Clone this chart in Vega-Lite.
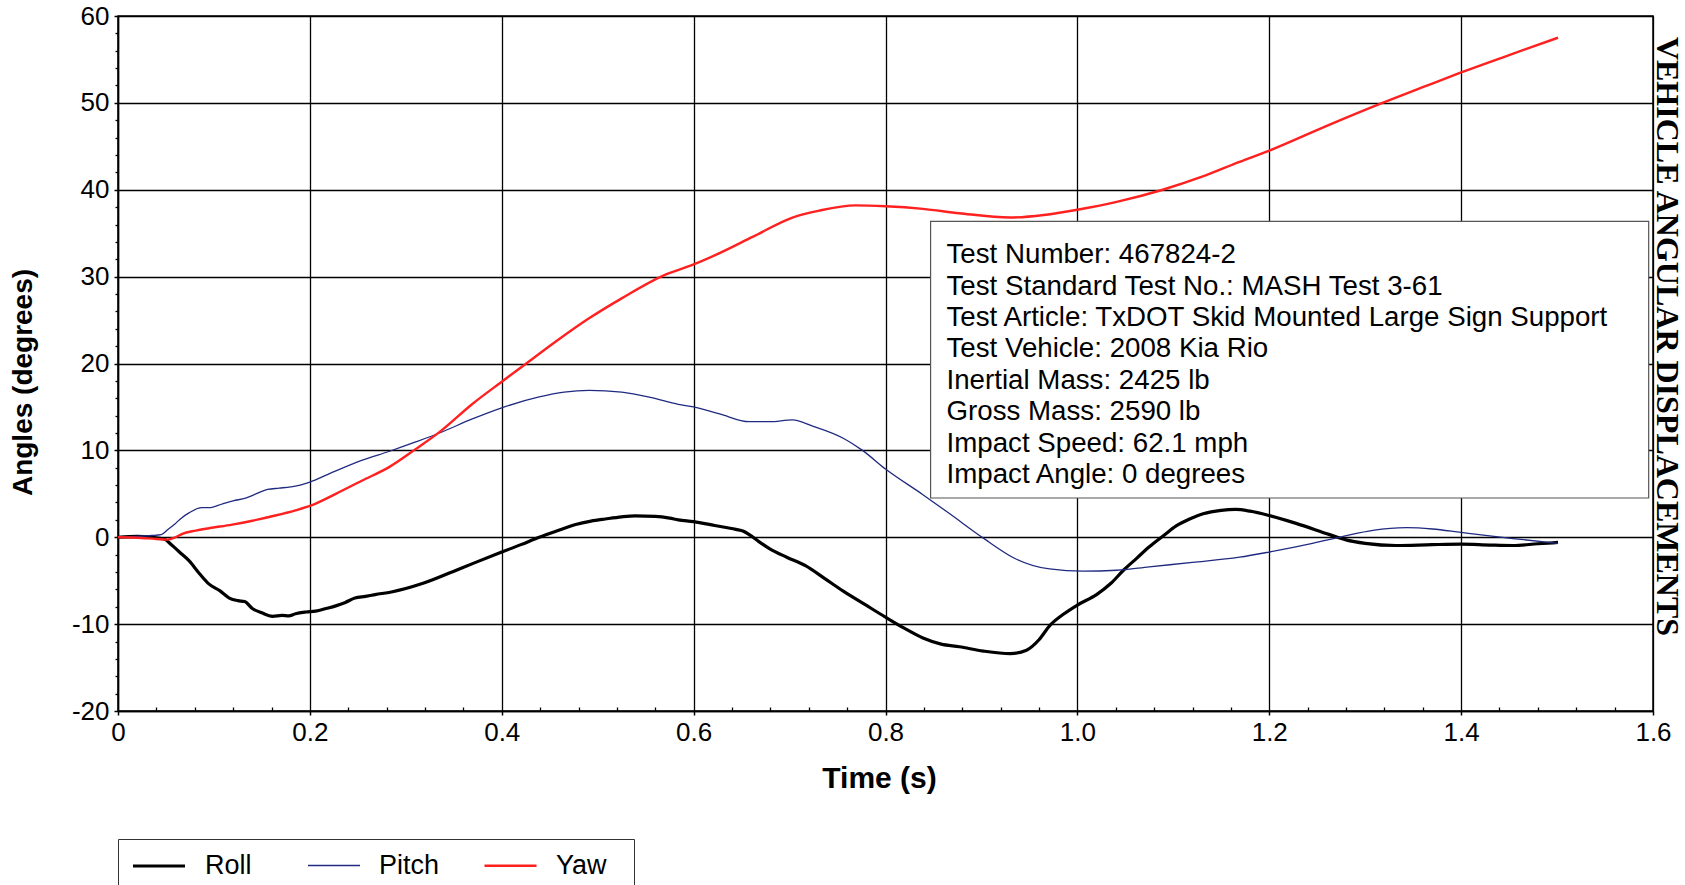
{
  "$schema": "https://vega.github.io/schema/vega-lite/v6.json",
  "width": 1535,
  "height": 695,
  "autosize": {"type": "none"},
  "padding": {"left": 118, "top": 16, "right": 32, "bottom": 174},
  "background": "white",
  "config": {"view": {"stroke": "black", "strokeWidth": 1.5}, "font": "Liberation Sans"},
  "datasets": {
    "angles": [
      {"series": "Roll", "t": 0, "angle": 0}, {"series": "Roll", "t": 0.02, "angle": 0.1}, {"series": "Roll", "t": 0.035, "angle": 0.0}, {"series": "Roll", "t": 0.048, "angle": -0.2}, {"series": "Roll", "t": 0.056, "angle": -0.9}, {"series": "Roll", "t": 0.064, "angle": -1.7}, {"series": "Roll", "t": 0.074, "angle": -2.7}, {"series": "Roll", "t": 0.085, "angle": -4.2}, {"series": "Roll", "t": 0.095, "angle": -5.4}, {"series": "Roll", "t": 0.106, "angle": -6.15}, {"series": "Roll", "t": 0.116, "angle": -7.0}, {"series": "Roll", "t": 0.125, "angle": -7.3}, {"series": "Roll", "t": 0.132, "angle": -7.4}, {"series": "Roll", "t": 0.14, "angle": -8.2}, {"series": "Roll", "t": 0.15, "angle": -8.7}, {"series": "Roll", "t": 0.161, "angle": -9.1}, {"series": "Roll", "t": 0.171, "angle": -9.0}, {"series": "Roll", "t": 0.178, "angle": -9.05}, {"series": "Roll", "t": 0.185, "angle": -8.8}, {"series": "Roll", "t": 0.196, "angle": -8.6}, {"series": "Roll", "t": 0.206, "angle": -8.5}, {"series": "Roll", "t": 0.217, "angle": -8.2}, {"series": "Roll", "t": 0.227, "angle": -7.9}, {"series": "Roll", "t": 0.237, "angle": -7.5}, {"series": "Roll", "t": 0.247, "angle": -7.0}, {"series": "Roll", "t": 0.258, "angle": -6.8}, {"series": "Roll", "t": 0.268, "angle": -6.6}, {"series": "Roll", "t": 0.285, "angle": -6.3}, {"series": "Roll", "t": 0.318, "angle": -5.3}, {"series": "Roll", "t": 0.359, "angle": -3.5}, {"series": "Roll", "t": 0.4, "angle": -1.7}, {"series": "Roll", "t": 0.42, "angle": -0.85}, {"series": "Roll", "t": 0.439, "angle": 0}, {"series": "Roll", "t": 0.458, "angle": 0.75}, {"series": "Roll", "t": 0.477, "angle": 1.46}, {"series": "Roll", "t": 0.493, "angle": 1.85}, {"series": "Roll", "t": 0.508, "angle": 2.1}, {"series": "Roll", "t": 0.525, "angle": 2.35}, {"series": "Roll", "t": 0.539, "angle": 2.46}, {"series": "Roll", "t": 0.56, "angle": 2.4}, {"series": "Roll", "t": 0.575, "angle": 2.2}, {"series": "Roll", "t": 0.584, "angle": 2.0}, {"series": "Roll", "t": 0.6, "angle": 1.8}, {"series": "Roll", "t": 0.622, "angle": 1.35}, {"series": "Roll", "t": 0.644, "angle": 0.9}, {"series": "Roll", "t": 0.652, "angle": 0.7}, {"series": "Roll", "t": 0.658, "angle": 0.3}, {"series": "Roll", "t": 0.668, "angle": -0.5}, {"series": "Roll", "t": 0.679, "angle": -1.3}, {"series": "Roll", "t": 0.697, "angle": -2.3}, {"series": "Roll", "t": 0.717, "angle": -3.3}, {"series": "Roll", "t": 0.736, "angle": -4.7}, {"series": "Roll", "t": 0.756, "angle": -6.2}, {"series": "Roll", "t": 0.778, "angle": -7.7}, {"series": "Roll", "t": 0.8, "angle": -9.2}, {"series": "Roll", "t": 0.82, "angle": -10.5}, {"series": "Roll", "t": 0.839, "angle": -11.6}, {"series": "Roll", "t": 0.858, "angle": -12.3}, {"series": "Roll", "t": 0.877, "angle": -12.6}, {"series": "Roll", "t": 0.902, "angle": -13.1}, {"series": "Roll", "t": 0.93, "angle": -13.4}, {"series": "Roll", "t": 0.947, "angle": -13.0}, {"series": "Roll", "t": 0.96, "angle": -11.8}, {"series": "Roll", "t": 0.971, "angle": -10.2}, {"series": "Roll", "t": 0.985, "angle": -8.9}, {"series": "Roll", "t": 1.0, "angle": -7.8}, {"series": "Roll", "t": 1.02, "angle": -6.6}, {"series": "Roll", "t": 1.035, "angle": -5.3}, {"series": "Roll", "t": 1.048, "angle": -3.8}, {"series": "Roll", "t": 1.062, "angle": -2.4}, {"series": "Roll", "t": 1.075, "angle": -1.1}, {"series": "Roll", "t": 1.09, "angle": 0.2}, {"series": "Roll", "t": 1.103, "angle": 1.3}, {"series": "Roll", "t": 1.117, "angle": 2.1}, {"series": "Roll", "t": 1.131, "angle": 2.7}, {"series": "Roll", "t": 1.15, "angle": 3.1}, {"series": "Roll", "t": 1.165, "angle": 3.2}, {"series": "Roll", "t": 1.18, "angle": 3.0}, {"series": "Roll", "t": 1.2, "angle": 2.5}, {"series": "Roll", "t": 1.228, "angle": 1.6}, {"series": "Roll", "t": 1.263, "angle": 0.3}, {"series": "Roll", "t": 1.28, "angle": -0.3}, {"series": "Roll", "t": 1.3, "angle": -0.7}, {"series": "Roll", "t": 1.332, "angle": -0.95}, {"series": "Roll", "t": 1.37, "angle": -0.85}, {"series": "Roll", "t": 1.4, "angle": -0.8}, {"series": "Roll", "t": 1.43, "angle": -0.9}, {"series": "Roll", "t": 1.454, "angle": -0.95}, {"series": "Roll", "t": 1.48, "angle": -0.75}, {"series": "Roll", "t": 1.501, "angle": -0.6},
      {"series": "Pitch", "t": 0, "angle": 0}, {"series": "Pitch", "t": 0.02, "angle": 0.1}, {"series": "Pitch", "t": 0.035, "angle": 0.2}, {"series": "Pitch", "t": 0.045, "angle": 0.3}, {"series": "Pitch", "t": 0.052, "angle": 0.9}, {"series": "Pitch", "t": 0.059, "angle": 1.5}, {"series": "Pitch", "t": 0.066, "angle": 2.2}, {"series": "Pitch", "t": 0.074, "angle": 2.8}, {"series": "Pitch", "t": 0.087, "angle": 3.4}, {"series": "Pitch", "t": 0.095, "angle": 3.4}, {"series": "Pitch", "t": 0.109, "angle": 3.85}, {"series": "Pitch", "t": 0.12, "angle": 4.2}, {"series": "Pitch", "t": 0.133, "angle": 4.5}, {"series": "Pitch", "t": 0.14, "angle": 4.8}, {"series": "Pitch", "t": 0.148, "angle": 5.2}, {"series": "Pitch", "t": 0.156, "angle": 5.5}, {"series": "Pitch", "t": 0.168, "angle": 5.65}, {"series": "Pitch", "t": 0.18, "angle": 5.8}, {"series": "Pitch", "t": 0.19, "angle": 6.0}, {"series": "Pitch", "t": 0.2, "angle": 6.35}, {"series": "Pitch", "t": 0.22, "angle": 7.3}, {"series": "Pitch", "t": 0.254, "angle": 8.85}, {"series": "Pitch", "t": 0.283, "angle": 9.9}, {"series": "Pitch", "t": 0.311, "angle": 11.0}, {"series": "Pitch", "t": 0.335, "angle": 12.0}, {"series": "Pitch", "t": 0.37, "angle": 13.65}, {"series": "Pitch", "t": 0.4, "angle": 14.9}, {"series": "Pitch", "t": 0.439, "angle": 16.15}, {"series": "Pitch", "t": 0.465, "angle": 16.7}, {"series": "Pitch", "t": 0.491, "angle": 16.9}, {"series": "Pitch", "t": 0.525, "angle": 16.7}, {"series": "Pitch", "t": 0.555, "angle": 16.1}, {"series": "Pitch", "t": 0.584, "angle": 15.3}, {"series": "Pitch", "t": 0.6, "angle": 15.0}, {"series": "Pitch", "t": 0.627, "angle": 14.2}, {"series": "Pitch", "t": 0.658, "angle": 13.3}, {"series": "Pitch", "t": 0.679, "angle": 13.3}, {"series": "Pitch", "t": 0.703, "angle": 13.5}, {"series": "Pitch", "t": 0.724, "angle": 12.8}, {"series": "Pitch", "t": 0.756, "angle": 11.4}, {"series": "Pitch", "t": 0.776, "angle": 10.0}, {"series": "Pitch", "t": 0.8, "angle": 7.85}, {"series": "Pitch", "t": 0.839, "angle": 4.9}, {"series": "Pitch", "t": 0.867, "angle": 2.7}, {"series": "Pitch", "t": 0.902, "angle": -0.1}, {"series": "Pitch", "t": 0.936, "angle": -2.5}, {"series": "Pitch", "t": 0.971, "angle": -3.65}, {"series": "Pitch", "t": 1.006, "angle": -3.9}, {"series": "Pitch", "t": 1.041, "angle": -3.8}, {"series": "Pitch", "t": 1.075, "angle": -3.4}, {"series": "Pitch", "t": 1.12, "angle": -2.9}, {"series": "Pitch", "t": 1.169, "angle": -2.3}, {"series": "Pitch", "t": 1.2, "angle": -1.7}, {"series": "Pitch", "t": 1.245, "angle": -0.7}, {"series": "Pitch", "t": 1.277, "angle": 0.1}, {"series": "Pitch", "t": 1.308, "angle": 0.8}, {"series": "Pitch", "t": 1.343, "angle": 1.1}, {"series": "Pitch", "t": 1.37, "angle": 0.95}, {"series": "Pitch", "t": 1.4, "angle": 0.55}, {"series": "Pitch", "t": 1.454, "angle": -0.15}, {"series": "Pitch", "t": 1.501, "angle": -0.7},
      {"series": "Yaw", "t": 0, "angle": 0}, {"series": "Yaw", "t": 0.02, "angle": -0.05}, {"series": "Yaw", "t": 0.04, "angle": -0.2}, {"series": "Yaw", "t": 0.052, "angle": -0.27}, {"series": "Yaw", "t": 0.06, "angle": 0.0}, {"series": "Yaw", "t": 0.067, "angle": 0.4}, {"series": "Yaw", "t": 0.081, "angle": 0.77}, {"series": "Yaw", "t": 0.095, "angle": 1.04}, {"series": "Yaw", "t": 0.119, "angle": 1.46}, {"series": "Yaw", "t": 0.14, "angle": 1.9}, {"series": "Yaw", "t": 0.164, "angle": 2.5}, {"series": "Yaw", "t": 0.185, "angle": 3.1}, {"series": "Yaw", "t": 0.2, "angle": 3.6}, {"series": "Yaw", "t": 0.227, "angle": 5.0}, {"series": "Yaw", "t": 0.254, "angle": 6.5}, {"series": "Yaw", "t": 0.283, "angle": 8.1}, {"series": "Yaw", "t": 0.311, "angle": 10.2}, {"series": "Yaw", "t": 0.335, "angle": 12.1}, {"series": "Yaw", "t": 0.37, "angle": 15.4}, {"series": "Yaw", "t": 0.4, "angle": 17.9}, {"series": "Yaw", "t": 0.428, "angle": 20.2}, {"series": "Yaw", "t": 0.456, "angle": 22.5}, {"series": "Yaw", "t": 0.491, "angle": 25.2}, {"series": "Yaw", "t": 0.525, "angle": 27.5}, {"series": "Yaw", "t": 0.57, "angle": 30.2}, {"series": "Yaw", "t": 0.6, "angle": 31.4}, {"series": "Yaw", "t": 0.627, "angle": 32.7}, {"series": "Yaw", "t": 0.662, "angle": 34.6}, {"series": "Yaw", "t": 0.703, "angle": 36.8}, {"series": "Yaw", "t": 0.731, "angle": 37.6}, {"series": "Yaw", "t": 0.769, "angle": 38.2}, {"series": "Yaw", "t": 0.8, "angle": 38.1}, {"series": "Yaw", "t": 0.839, "angle": 37.8}, {"series": "Yaw", "t": 0.877, "angle": 37.3}, {"series": "Yaw", "t": 0.93, "angle": 36.8}, {"series": "Yaw", "t": 0.965, "angle": 37.1}, {"series": "Yaw", "t": 1.0, "angle": 37.7}, {"series": "Yaw", "t": 1.041, "angle": 38.6}, {"series": "Yaw", "t": 1.089, "angle": 40.0}, {"series": "Yaw", "t": 1.13, "angle": 41.5}, {"series": "Yaw", "t": 1.169, "angle": 43.2}, {"series": "Yaw", "t": 1.2, "angle": 44.5}, {"series": "Yaw", "t": 1.263, "angle": 47.5}, {"series": "Yaw", "t": 1.318, "angle": 50.0}, {"series": "Yaw", "t": 1.36, "angle": 51.8}, {"series": "Yaw", "t": 1.4, "angle": 53.5}, {"series": "Yaw", "t": 1.45, "angle": 55.5}, {"series": "Yaw", "t": 1.501, "angle": 57.5}
    ]
  },
  "resolve": {"axis": {"x": "independent", "y": "independent"}},
  "layer": [
    {
      "data": {"name": "angles"},
      "mark": {"type": "line", "interpolate": "monotone"},
      "encoding": {
        "x": {
          "field": "t", "type": "quantitative",
          "scale": {"domain": [0, 1.6], "nice": false, "zero": false},
          "axis": {
            "orient": "bottom",
            "values": [0, 0.2, 0.4, 0.6, 0.8, 1.0, 1.2, 1.4, 1.6],
            "labelExpr": "datum.value == 0 ? '0' : format(datum.value, '.1f')",
            "grid": true, "gridColor": "black", "gridWidth": 1.3, "gridOpacity": 1,
            "domain": true, "domainColor": "black", "domainWidth": 1.5,
            "ticks": true, "tickSize": 4, "tickColor": "black", "tickWidth": 1.5,
            "labelFontSize": 26, "labelFont": "Liberation Sans", "labelColor": "black", "labelPadding": 4, "labelFlush": false, "labelOverlap": false,
            "title": "Time (s)", "titleFont": "Liberation Sans", "titleFontSize": 30, "titleFontWeight": "bold", "titleColor": "black",
            "titleX": 761, "titleY": 67, "titleAlign": "center", "titleBaseline": "middle"
          }
        },
        "y": {
          "field": "angle", "type": "quantitative",
          "scale": {"domain": [-20, 60], "nice": false, "zero": false},
          "axis": {
            "orient": "left",
            "values": [-20, -10, 0, 10, 20, 30, 40, 50, 60],
            "labelExpr": "'' + datum.value",
            "grid": true, "gridColor": "black", "gridWidth": 1.3, "gridOpacity": 1,
            "domain": true, "domainColor": "black", "domainWidth": 1.5,
            "ticks": true, "tickSize": 4, "tickColor": "black", "tickWidth": 1.5,
            "labelFontSize": 26, "labelFont": "Liberation Sans", "labelColor": "black", "labelPadding": 5, "labelFlush": false, "labelOverlap": false,
            "title": "Angles (degrees)", "titleFont": "Liberation Sans", "titleFontSize": 28, "titleFontWeight": "bold", "titleColor": "black",
            "titleX": -95, "titleY": 366, "titleAngle": -90, "titleAlign": "center", "titleBaseline": "middle"
          }
        },
        "color": {
          "field": "series", "type": "nominal",
          "scale": {"domain": ["Roll", "Pitch", "Yaw"], "range": ["#000000", "#1f2a80", "#ff2020"]},
          "legend": {
            "orient": "none", "legendX": 0, "legendY": 823, "direction": "horizontal",
            "title": " ", "titleOrient": "right", "titlePadding": 15, "titleFontSize": 27,
            "symbolType": "M-2,0H2", "symbolSize": 676, "symbolOffset": 14,
            "labelFontSize": 27, "labelFont": "Liberation Sans", "labelColor": "black", "labelOffset": 31,
            "padding": 12, "columnPadding": 39, "gridAlign": "all",
            "strokeColor": "#333333", "fillColor": "white"
          }
        },
        "strokeWidth": {
          "field": "series", "type": "nominal",
          "scale": {"type": "ordinal", "domain": ["Roll", "Pitch", "Yaw"], "range": [3.2, 1.3, 2.4]},
          "legend": {
            "orient": "none", "legendX": 0, "legendY": 823, "direction": "horizontal",
            "title": " ", "titleOrient": "right", "titlePadding": 15, "titleFontSize": 27,
            "symbolType": "M-2,0H2", "symbolSize": 676, "symbolOffset": 14,
            "labelFontSize": 27, "labelFont": "Liberation Sans", "labelColor": "black", "labelOffset": 31,
            "padding": 12, "columnPadding": 39, "gridAlign": "all",
            "strokeColor": "#333333", "fillColor": "white"
          }
        }
      }
    },
    {
      "data": {"values": [{"note": "box"}]},
      "mark": {"type": "rect", "fill": "white", "stroke": "#555555", "strokeWidth": 1.2},
      "encoding": {
        "x": {
          "datum": 0.847, "type": "quantitative",
          "axis": {
            "orient": "bottom",
            "values": [0.04, 0.08, 0.12, 0.16, 0.24, 0.28, 0.32, 0.36, 0.44, 0.48, 0.52, 0.56, 0.64, 0.68, 0.72, 0.76, 0.84, 0.88, 0.92, 0.96, 1.04, 1.08, 1.12, 1.16, 1.24, 1.28, 1.32, 1.36, 1.44, 1.48, 1.52, 1.56],
            "labels": false, "grid": false, "domain": false, "ticks": true, "tickSize": -4, "tickColor": "black", "tickWidth": 1.3, "title": null
          }
        },
        "x2": {"datum": 1.5955},
        "y": {
          "datum": 36.35, "type": "quantitative",
          "axis": {
            "orient": "left",
            "values": [-18, -16, -14, -12, -8, -6, -4, -2, 2, 4, 6, 8, 12, 14, 16, 18, 22, 24, 26, 28, 32, 34, 36, 38, 42, 44, 46, 48, 52, 54, 56, 58],
            "labels": false, "grid": false, "domain": false, "ticks": true, "tickSize": 3, "tickColor": "black", "tickWidth": 1.3, "title": null
          }
        },
        "y2": {"datum": 4.52}
      }
    },
    {
      "data": {"values": [{"note": "info"}]},
      "mark": {
        "type": "text", "align": "left", "baseline": "alphabetic", "font": "Liberation Sans", "fontSize": 27.7, "lineHeight": 31.4, "color": "black",
        "text": ["Test Number: 467824-2", "Test Standard Test No.: MASH Test 3-61", "Test Article: TxDOT Skid Mounted Large Sign Support", "Test Vehicle: 2008 Kia Rio", "Inertial Mass: 2425 lb", "Gross Mass: 2590 lb", "Impact Speed: 62.1 mph", "Impact Angle: 0 degrees"]
      },
      "encoding": {
        "x": {"datum": 0.8636, "type": "quantitative", "axis": null},
        "y": {
          "datum": 31.55, "type": "quantitative",
          "axis": {
            "orient": "right", "labels": false, "ticks": false, "grid": false, "domain": false,
            "title": "VEHICLE ANGULAR DISPLACEMENTS", "titleFont": "Liberation Serif", "titleFontWeight": "bold", "titleFontSize": 32, "titleColor": "black",
            "titleAngle": 90, "titleX": 13, "titleY": 320, "titleAlign": "center", "titleBaseline": "middle"
          }
        }
      }
    }
  ]
}
